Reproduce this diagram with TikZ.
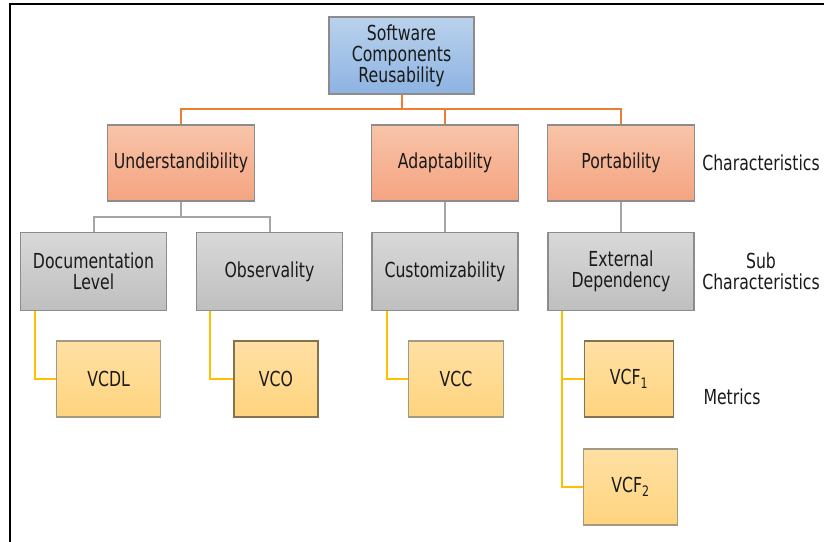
\documentclass[tikz,border=0pt]{standalone}
\usepackage{fontspec}
\setmainfont{DejaVu Sans}[FakeStretch=0.76]
\usetikzlibrary{calc}
\definecolor{txt}{HTML}{1A1A1A}
\definecolor{bordg}{HTML}{8C8C8C}
\definecolor{bordy}{HTML}{A39A84}
\definecolor{bordyd}{HTML}{857350}
\definecolor{bluetop}{HTML}{BAD2EC}
\definecolor{bluebot}{HTML}{8DB3E2}
\definecolor{ortop}{HTML}{F8C4A9}
\definecolor{orbot}{HTML}{F4A480}
\definecolor{grtop}{HTML}{D9D9D9}
\definecolor{grbot}{HTML}{BFBFBF}
\definecolor{yetop}{HTML}{FFE0A4}
\definecolor{yebot}{HTML}{FFD47E}
\definecolor{orline}{HTML}{ED7D31}
\definecolor{grline}{HTML}{A5A5A5}
\definecolor{yeline}{HTML}{FFC000}
\tikzset{
  box/.style={draw=bordg, line width=0.8pt, align=center, text=txt, inner sep=0pt,
    font=\fontsize{15.5}{15.75}\selectfont},
  rootbox/.style={box, top color=bluetop, bottom color=bluebot, minimum width=108.75pt, minimum height=57.75pt},
  charbox/.style={box, top color=ortop, bottom color=orbot, minimum width=110pt, minimum height=57pt},
  subbox/.style={box, top color=grtop, bottom color=grbot, minimum width=109.5pt, minimum height=58.5pt},
  metbox/.style={box, draw=bordy, top color=yetop, bottom color=yebot, minimum height=57pt},
  oc/.style={draw=orline, line width=1.5pt},
  gc/.style={draw=grline, line width=1.5pt},
  yc/.style={draw=yeline, line width=1.5pt},
  lab/.style={align=center, text=txt, font=\fontsize{15.5}{15.75}\selectfont}
}
\begin{document}
\begin{tikzpicture}[x=0.75pt, y=-0.75pt]
\useasboundingbox (0,0) rectangle (824,542);
% frame
\draw[black, line width=1.5pt] (9.5,545) -- (9.5,4) -- (830,4);
% nodes
\node[rootbox] (root) at (401.5,55.5) {Software\\Components\\Reusability};
\node[charbox] (u) at (181,163) {Understandibility};
\node[charbox] (a) at (445,163) {Adaptability};
\node[charbox] (p) at (621,163) {Portability};
\node[subbox] (dl) at (93.5,271.3) {Documentation\\Level};
\node[subbox] (ob) at (269.5,271.3) {Observality};
\node[subbox] (cu) at (445,271.3) {Customizability};
\node[subbox] (ed) at (621,271.3) {External\\Dependency};
\node[metbox, minimum width=78pt] (vcdl) at (108.6,379) {VCDL};
\node[metbox, draw=bordyd, minimum width=63pt] (vco) at (276,379) {VCO};
\node[metbox, minimum width=70.8pt] (vcc) at (456,379) {VCC};
\node[metbox, draw=bordyd, minimum width=67pt] (vcf1) at (629,379) {VCF\textsubscript{1}};
\node[metbox, minimum width=70.8pt] (vcf2) at (630.5,487) {VCF\textsubscript{2}};
% side labels
\node[lab] (lchar) at (761,163) {Characteristics};
\node[lab] (lsub) at (761,271.3) {Sub\\Characteristics};
\node[lab] (lmet) at (732,397) {Metrics};
% connectors level 1
\coordinate (bus1) at (401.5,109);
\draw[oc] (root.south) -- (bus1);
\draw[oc] (bus1) -| (u.north);
\draw[oc] (bus1) -| (a.north);
\draw[oc] (bus1) -| (p.north);
% connectors level 2
\coordinate (bus2) at (181,217.3);
\draw[gc] (u.south) -- (bus2);
\draw[gc] (bus2) -| (dl.north);
\draw[gc] (bus2) -| (ob.north);
\draw[gc] (a.south) -- (cu.north);
\draw[gc] (p.south) -- (ed.north);
% connectors level 3
\draw[yc] ([xshift=10.9pt]dl.south west) |- (vcdl.west);
\draw[yc] ([xshift=10.7pt]ob.south west) |- (vco.west);
\draw[yc] ([xshift=11.4pt]cu.south west) |- (vcc.west);
\draw[yc] ([xshift=11.2pt]ed.south west) |- (vcf1.west);
\draw[yc] ([xshift=11.2pt]ed.south west) |- (vcf2.west);
\end{tikzpicture}
\end{document}
